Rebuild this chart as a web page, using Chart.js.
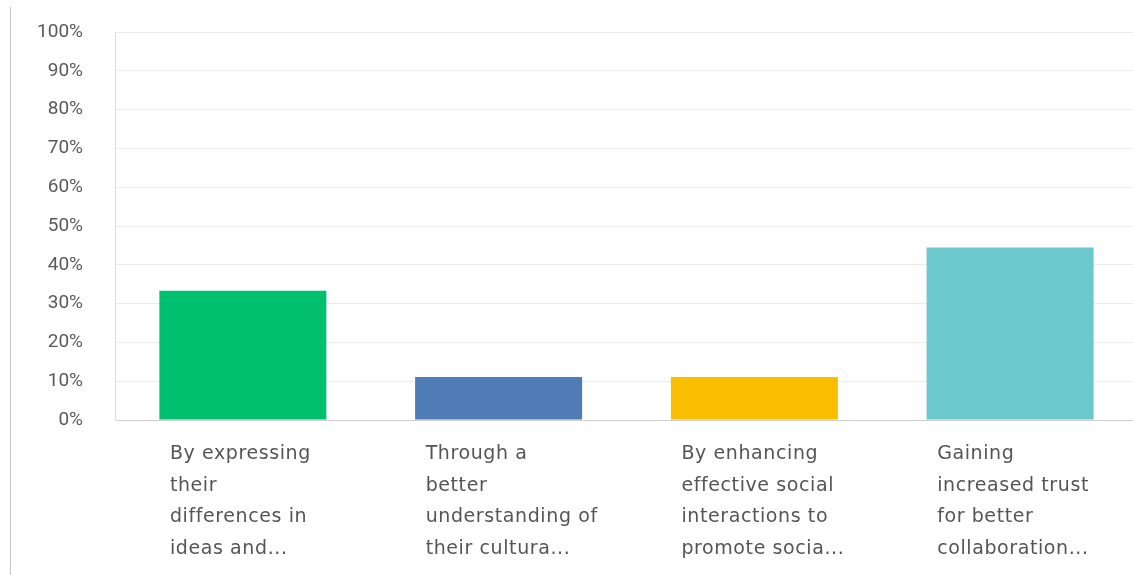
<!DOCTYPE html>
<html>
<head>
<meta charset="utf-8">
<script src="https://cdn.jsdelivr.net/npm/chart.js@4.4.1/dist/chart.umd.min.js"></script>
<style>
  html, body { margin: 0; padding: 0; background: #fff; overflow: hidden; }
  #wrap { position: relative; width: 1133px; height: 575px; overflow: hidden; }
  #edge { position: absolute; left: 10px; top: 7px; bottom: 0; border-left: 1px solid #c4c4c4; }
  canvas { position: absolute; left: 0; top: 0; }
</style>
</head>
<body>
<div id="wrap">
  <div id="edge"></div>
  <canvas id="chart" width="1138" height="575"></canvas>
</div>
<script>
// answer options, shown as wrapped category labels
const answers = [
  ['By expressing', 'their', 'differences in', 'ideas and...'],
  ['Through a', 'better', 'understanding of', 'their cultura...'],
  ['By enhancing', 'effective social', 'interactions to', 'promote socia...'],
  ['Gaining', 'increased trust', 'for better', 'collaboration...']
];
// share of respondents per answer (%)
const shares = [33.33, 11.11, 11.11, 44.44];
const barColors = ['#00bf6f', '#507cb6', '#f9be00', '#6bc8cd'];
const percentTicks = [0, 10, 20, 30, 40, 50, 60, 70, 80, 90, 100];

// a little extra letter spacing for the category labels only (drawn after the bars)
const spacing = {
  id: 'spacing',
  afterDatasetsDraw(chart) { chart.ctx.letterSpacing = '0.6px'; },
  afterDraw(chart) { chart.ctx.letterSpacing = '0px'; }
};

new Chart(document.getElementById('chart'), {
  type: 'bar',
  data: {
    labels: answers,
    datasets: [{
      data: shares,
      backgroundColor: barColors,
      borderWidth: 0,
      categoryPercentage: 1,
      barPercentage: 0.653
    }]
  },
  options: {
    responsive: false,
    animation: false,
    layout: { padding: { top: 32, right: 0, bottom: 0, left: 0 } },
    plugins: {
      legend: { display: false },
      tooltip: { enabled: false }
    },
    scales: {
      x: {
        grid: { display: false, drawTicks: false },
        border: { color: '#cfcfcf', width: 1 },
        ticks: {
          z: 1,
          autoSkip: false,
          maxRotation: 0,
          align: 'start',
          labelOffset: -73,
          padding: 18,
          color: '#555',
          font: { family: 'DejaVu Sans', size: 19, lineHeight: 1.67 }
        },
        afterFit(scale) {
          scale.height = 155;
          scale.paddingLeft = 0;
          scale.paddingRight = 0;
        }
      },
      y: {
        min: 0,
        max: 100,
        afterBuildTicks(scale) { scale.ticks = percentTicks.map(v => ({ value: v })); },
        grid: { color: '#ececec', lineWidth: 1, drawTicks: false },
        border: { color: '#dcdcdc', width: 1 },
        ticks: {
          padding: 32,
          color: '#5a5a5a',
          font: { family: 'Roboto', size: 19 },
          callback: v => v + '%'
        },
        afterFit(scale) {
          scale.width = 115;
          scale.paddingTop = 0;
          scale.paddingBottom = 0;
        }
      }
    }
  },
  plugins: [spacing]
});
</script>
</body>
</html>
